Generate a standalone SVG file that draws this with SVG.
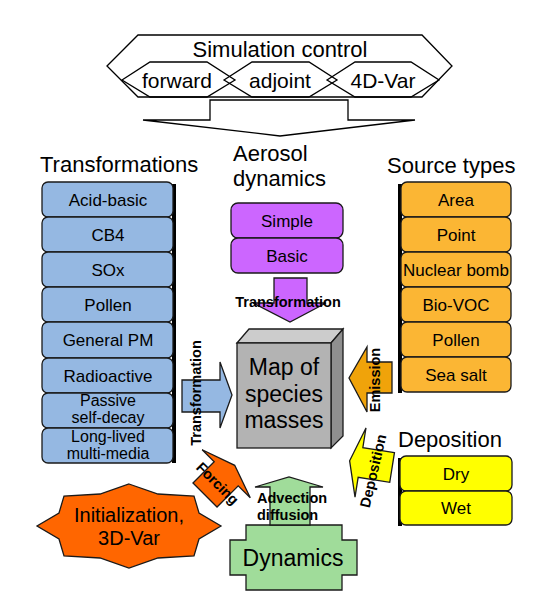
<svg xmlns="http://www.w3.org/2000/svg" width="537" height="612" viewBox="0 0 537 612">
<style>
text{font-family:"Liberation Sans",Arial,sans-serif;fill:#000}
.h{font-size:22px}
.it{font-size:17px;text-anchor:middle}
.it2{font-size:16px;text-anchor:middle}
.hx{font-size:21px;text-anchor:middle}
.lb{font-size:14.5px;font-weight:bold;text-anchor:middle}
.ln{stroke:#000;stroke-width:1.3}
.bx{stroke:#1a1a1a;stroke-width:1.3}
.blue{fill:#95B8E2}
.org{fill:#FBB634}
.yel{fill:#FFFF00}
.pur{fill:#CC66FF}
</style>
<rect width="537" height="612" fill="#fff"/>

<g id="simulation-control">
<polygon class="ln" fill="#fff" points="107,66 138,35 422,35 452,66 422,97 138,97"/>
<text x="280" y="57" style="font-size:22px;text-anchor:middle">Simulation control</text>
<polygon class="ln" fill="none" points="122,80 150,62 207,62 235,80 207,97 150,97"/>
<polygon class="ln" fill="none" points="224,80 252,62 309,62 337,80 309,97 252,97"/>
<polygon class="ln" fill="none" points="327,80 355,62 411,62 439,80 411,97 355,97"/>
<text class="hx" x="177" y="88">forward</text>
<text class="hx" x="280" y="88">adjoint</text>
<text class="hx" x="383" y="88">4D-Var</text>
<polygon class="ln" fill="#fff" points="210,100 348,100 348,120 415,120 280,136 143,120 210,120"/>
</g>

<g id="transformations">
<text class="h" x="40" y="172">Transformations</text>
<rect x="172" y="184" width="4" height="279" fill="#000"/>
<rect class="bx blue" x="42" y="182" width="131" height="35" rx="6"/>
<rect class="bx blue" x="42" y="217" width="131" height="35" rx="6"/>
<rect class="bx blue" x="42" y="252" width="131" height="35" rx="6"/>
<rect class="bx blue" x="42" y="287" width="131" height="35" rx="6"/>
<rect class="bx blue" x="42" y="322" width="131" height="36" rx="6"/>
<rect class="bx blue" x="42" y="358" width="131" height="35" rx="6"/>
<rect class="bx blue" x="42" y="393" width="131" height="35" rx="6"/>
<rect class="bx blue" x="42" y="428" width="131" height="35" rx="6"/>
<text class="it" x="108" y="206">Acid-basic</text>
<text class="it" x="108" y="241">CB4</text>
<text class="it" x="108" y="276">SOx</text>
<text class="it" x="108" y="311">Pollen</text>
<text class="it" x="108" y="346">General PM</text>
<text class="it" x="108" y="382">Radioactive</text>
<text class="it2" x="108" y="406">Passive</text>
<text class="it2" x="108" y="423">self-decay</text>
<text class="it2" x="108" y="442">Long-lived</text>
<text class="it2" x="108" y="459">multi-media</text>
</g>

<g id="aerosol-dynamics">
<text class="h" x="233" y="161">Aerosol</text>
<text class="h" x="233" y="186">dynamics</text>
<rect class="bx pur" x="231" y="203" width="112" height="35" rx="7"/>
<rect class="bx pur" x="231" y="238" width="112" height="35" rx="7"/>
<text class="it" x="287" y="227">Simple</text>
<text class="it" x="287" y="262">Basic</text>
</g>

<g id="source-types">
<text class="h" x="387" y="173">Source types</text>
<rect x="398" y="184" width="4" height="209" fill="#000"/>
<rect class="bx org" x="401" y="182" width="110" height="35" rx="6"/>
<rect class="bx org" x="401" y="217" width="110" height="35" rx="6"/>
<rect class="bx org" x="401" y="252" width="110" height="35" rx="6"/>
<rect class="bx org" x="401" y="287" width="110" height="35" rx="6"/>
<rect class="bx org" x="401" y="322" width="110" height="35" rx="6"/>
<rect class="bx org" x="401" y="357" width="110" height="35" rx="6"/>
<text class="it" x="456" y="206">Area</text>
<text class="it" x="456" y="241">Point</text>
<text class="it" x="456" y="276">Nuclear bomb</text>
<text class="it" x="456" y="311">Bio-VOC</text>
<text class="it" x="456" y="346">Pollen</text>
<text class="it" x="456" y="381">Sea salt</text>
</g>

<g id="deposition">
<text class="h" x="398" y="447">Deposition</text>
<rect x="398" y="458" width="4" height="68" fill="#000"/>
<rect class="bx yel" x="400" y="456" width="112" height="35" rx="6"/>
<rect class="bx yel" x="400" y="491" width="112" height="34" rx="6"/>
<text class="it" x="456" y="480">Dry</text>
<text class="it" x="456" y="514">Wet</text>
</g>

<g id="map-of-species-masses">
<polygon class="bx" fill="#CCCCCC" points="237,343 249,329 343,329 331,343"/>
<polygon class="bx" fill="#8F8F8F" points="331,343 343,329 343,436 331,448"/>
<rect class="bx" fill="#B3B3B3" x="237" y="343" width="94" height="105"/>
<text x="284" y="375" style="font-size:23px;text-anchor:middle">Map of</text>
<text x="284" y="402" style="font-size:23px;text-anchor:middle">species</text>
<text x="284" y="428" style="font-size:23px;text-anchor:middle">masses</text>
</g>

<g id="initialization">
<polygon class="bx" fill="#FF6600" points="129,484 158,494 194,496 199,513 221,526 199,539 194,556 158,558 129,568 100,558 64,556 59,539 37,526 59,513 64,496 100,494"/>
<text x="129" y="522" style="font-size:20px;text-anchor:middle">Initialization,</text>
<text x="129" y="545" style="font-size:20px;text-anchor:middle">3D-Var</text>
</g>

<g id="dynamics">
<polygon class="bx" fill="#A0DC9A" points="246,525 342,525 342,540 357,540 357,575 342,575 342,590 246,590 246,575 230,575 230,540 246,540"/>
<text x="293" y="566" style="font-size:23px;text-anchor:middle">Dynamics</text>
</g>

<g id="connectors">
<path class="bx" fill="#CC66FF" d="M274,278 H307 V303 H326 L290,322 L253,303 H274 Z"/>
<text class="lb" x="288" y="307">Transformation</text>
<path class="bx" fill="#95B8E2" d="M182,380 H220 V362 L232,395 L220,428 V412 H182 Z"/>
<text class="lb" transform="translate(201,393) rotate(-90)">Transformation</text>
<path class="bx" fill="#F0A30A" d="M392,362 H367 V347 L349,378 L367,412 V393 H392 Z"/>
<text class="lb" transform="translate(380,380) rotate(-90)">Emission</text>
<path class="bx" fill="#FFFF00" transform="translate(360.5,462.5) rotate(9)" d="M32,-15 H0 V-35 L-11,0 L0,35 V15 H32 Z"/>
<text class="lb" transform="translate(378,472) rotate(-77)">Deposition</text>
<path class="bx" fill="#FF6600" transform="translate(205,495) rotate(45)" d="M-17,0 V-30 H-34 L0,-42 L34,-30 H17 V0 Z"/>
<text class="lb" transform="translate(214,487) rotate(45)">Forcing</text>
<path class="bx" fill="#A0DC9A" d="M270,525 V487 H255 L289,477 L323,487 H310 V525 Z"/>
<text x="257" y="503" style="font-size:14.5px;font-weight:bold">Advection</text>
<text x="257" y="520" style="font-size:14.5px;font-weight:bold">diffusion</text>
</g>
</svg>
